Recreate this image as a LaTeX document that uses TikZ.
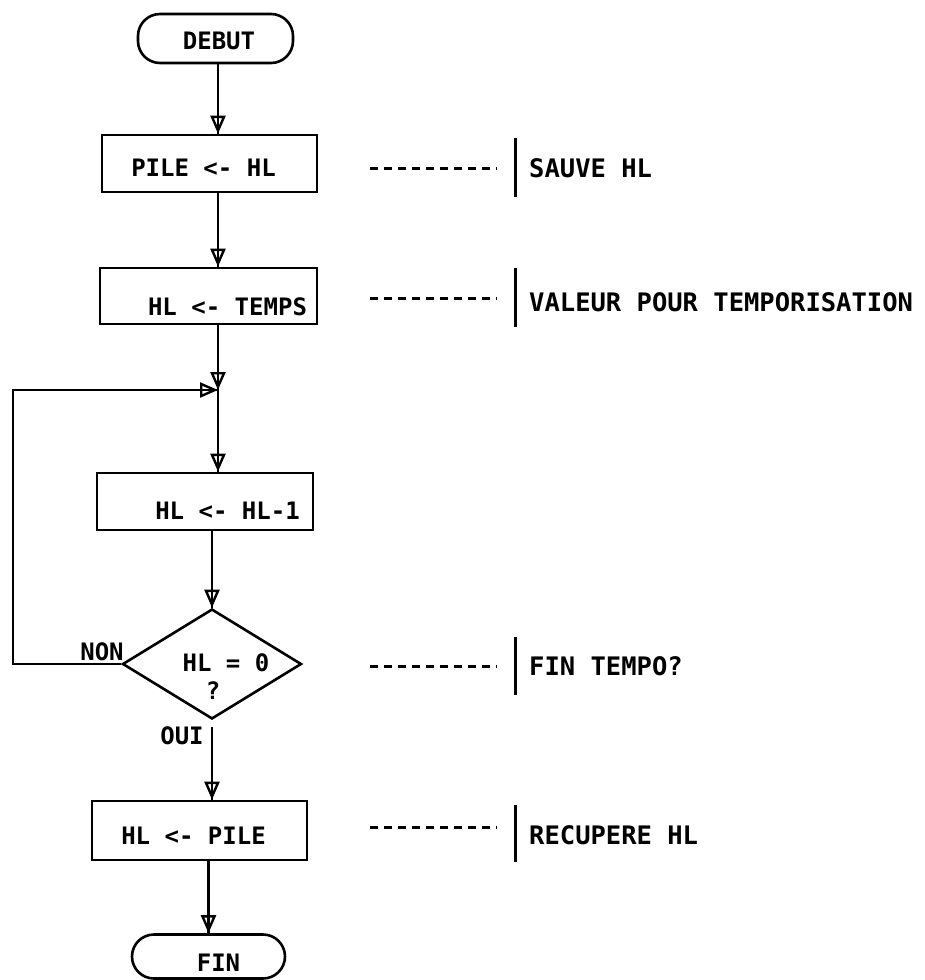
\documentclass[tikz,border=0pt]{standalone}
\usepackage{fontspec}
\setmonofont{DejaVu Sans Mono}
\usetikzlibrary{arrows.meta,shapes.geometric}
\begin{document}
\begin{tikzpicture}[x=1pt,y=-1pt,
  every node/.style={font=\ttfamily\bfseries\fontsize{24}{28}\selectfont},
  box/.style={draw,line width=2.6pt,inner sep=0pt},
  term/.style={draw,line width=2.6pt,rounded corners=22pt,inner sep=0pt},
  flow/.style={line width=2.6pt,postaction={draw,-{Triangle[open,length=18pt,width=15pt,line width=2.4pt]}}},
  txt/.style={anchor=base,inner sep=0pt},
  ann/.style={anchor=base west,inner sep=0pt,font=\ttfamily\bfseries\fontsize{25.5}{28}\selectfont},
  dashline/.style={line width=3pt,dash pattern=on 8pt off 6pt},
  bar/.style={line width=3pt}]
\useasboundingbox (0,0) rectangle (924,980);

\coordinate (mx) at (218,0);
\coordinate (jn) at (218,390);

% shapes
\node[term,minimum width=155pt,minimum height=49pt] (debut) at (215.5,38.5) {};
\node[box,minimum width=215pt,minimum height=57pt] (pile) at (209.5,163.5) {};
\node[box,minimum width=217pt,minimum height=56pt] (temps) at (208.5,296) {};
\node[box,minimum width=216pt,minimum height=57pt] (dec) at (205,501.5) {};
\node[draw,diamond,line width=2.6pt,minimum width=179pt,minimum height=110pt,inner sep=0pt] (dia) at (212,664) {};
\node[box,minimum width=215pt,minimum height=59pt] (pile2) at (199.5,830.5) {};
\node[term,minimum width=153pt,minimum height=44pt] (fin) at (208.5,956.5) {};

% texts
\node[txt] (tdebut) at (219,49) {DEBUT};
\node[txt] (tpile) at (203.5,176) {PILE <- HL};
\node[txt] (ttemps) at (227.5,315) {HL <- TEMPS};
\node[txt] (tdec) at (227.5,519) {HL <- HL-1};
\node[txt] (tdia) at (226,671) {HL = 0};
\node[txt] (tq) at (213,699) {?};
\node[txt] (tnon) at (102,660) {NON};
\node[txt] (toui) at (182,744) {OUI};
\node[txt] (tpile2) at (193.5,844) {HL <- PILE};
\node[txt] (tfin) at (218.5,971) {FIN};

% connectors
\draw[flow] (debut.south -| mx) -- (pile.north -| mx);
\draw[flow] (pile.south -| mx) -- (temps.north -| mx);
\draw[flow] (temps.south -| mx) -- (jn);
\draw[flow] (dia.west) -- (13,664) -- (13,390) -- (jn);
\draw[flow] (jn) -- (dec.north -| mx);
\draw[flow] (dec.south -| dia.north) -- (dia.north);
\draw[flow] ([yshift=-7pt]dia.south) -- (pile2.north -| dia.south);
\draw[flow] (pile2.south -| fin.north) -- (fin.north);

% annotations
\coordinate (a1) at (370,168); \coordinate (b1) at (497,168);
\coordinate (c1) at (515,138); \coordinate (e1) at (515,197);
\draw[dashline] (a1) -- (b1);
\draw[bar] (c1) -- (e1);
\node[ann] (n1) at (529,177) {SAUVE HL};

\coordinate (a2) at (370,298); \coordinate (b2) at (497,298);
\coordinate (c2) at (515,268); \coordinate (e2) at (515,327);
\draw[dashline] (a2) -- (b2);
\draw[bar] (c2) -- (e2);
\node[ann] (n2) at (529,311) {VALEUR POUR TEMPORISATION};

\coordinate (a3) at (370,666); \coordinate (b3) at (497,666);
\coordinate (c3) at (515,637); \coordinate (e3) at (515,695);
\draw[dashline] (a3) -- (b3);
\draw[bar] (c3) -- (e3);
\node[ann] (n3) at (529,675) {FIN TEMPO?};

\coordinate (a4) at (370,827); \coordinate (b4) at (497,827);
\coordinate (c4) at (515,805); \coordinate (e4) at (515,862);
\draw[dashline] (a4) -- (b4);
\draw[bar] (c4) -- (e4);
\node[ann] (n4) at (529,844) {RECUPERE HL};
\end{tikzpicture}
\end{document}
